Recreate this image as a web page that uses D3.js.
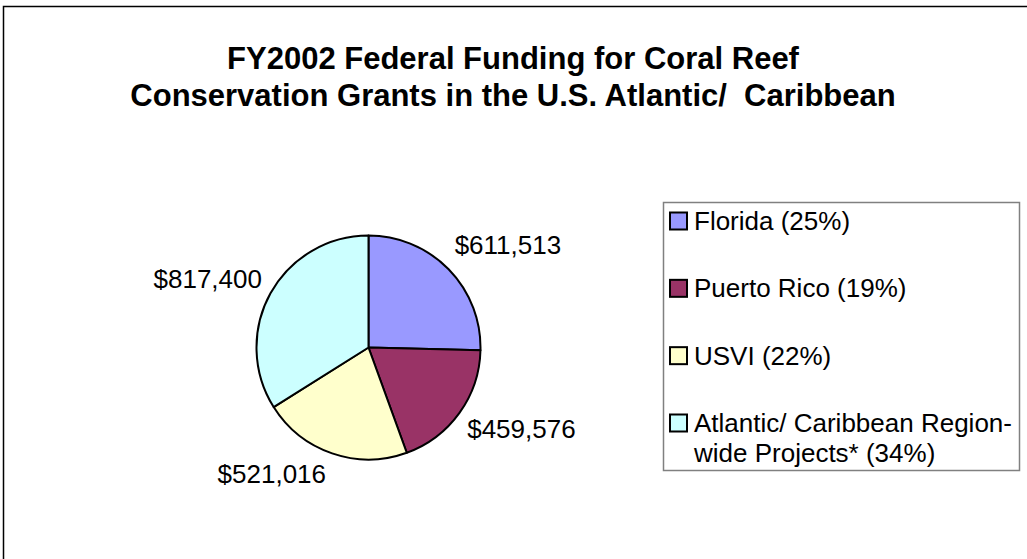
<!DOCTYPE html>
<html>
<head>
<meta charset="utf-8">
<script src="https://cdn.jsdelivr.net/npm/d3@7"></script>
<style>
  html, body { margin: 0; padding: 0; background: #fff; }
  svg { display: block; font-family: "Liberation Sans", Arial, sans-serif; }
  .title { white-space: pre; }
</style>
</head>
<body>
<svg id="chart" width="1027" height="559"></svg>
<script>
// ---- data ----
const categories = ["Florida", "Puerto Rico", "USVI", "Atlantic/ Caribbean Region-wide Projects*"];
const values = [611513, 459576, 521016, 817400];
const legendLabels = [["Florida (25%)"], ["Puerto Rico (19%)"], ["USVI (22%)"], ["Atlantic/ Caribbean Region-", "wide Projects* (34%)"]];
const colors = ["#9999FF", "#993366", "#FFFFCC", "#CCFFFF"];
const titleLines = ["FY2002 Federal Funding for Coral Reef", "Conservation Grants in the U.S. Atlantic/  Caribbean"];

// ---- layout ----
const W = 1027, H = 559;
const cx = 368.5, cy = 347.5, r = 112;
const labelR = 140;
const labelNudge = [[-14, -5], [-15, 0], [3, -6], [16, -1]];

const svg = d3.select("#chart");

svg.append("rect").attr("x", 3.5).attr("y", 6.5).attr("width", 1100).attr("height", 600)
  .attr("fill", "#fff").attr("stroke", "#000").attr("stroke-width", 1.5);

svg.selectAll("text.title").data(titleLines).join("text")
  .attr("class", "title")
  .attr("x", 513).attr("y", (d, i) => 69 + i * 37)
  .attr("text-anchor", "middle")
  .attr("font-size", 31).attr("font-weight", "bold").attr("fill", "#000")
  .text(d => d);

const fmt = d3.format("$,");
const pie = d3.pie().sort(null).value(d => d)(values);
const arc = d3.arc().innerRadius(0).outerRadius(r);

const g = svg.append("g").attr("transform", `translate(${cx},${cy})`);
g.selectAll("path").data(pie).join("path")
  .attr("d", arc)
  .attr("fill", (d, i) => colors[i])
  .attr("stroke", "#000").attr("stroke-width", 2).attr("stroke-linejoin", "round");

g.selectAll("text.lbl").data(pie).join("text")
  .attr("class", "lbl")
  .each(function (d, i) {
    const a = (d.startAngle + d.endAngle) / 2;
    const x = Math.sin(a) * labelR + labelNudge[i][0];
    const y = -Math.cos(a) * labelR + labelNudge[i][1];
    d3.select(this).attr("x", x).attr("y", y)
      .attr("text-anchor", Math.sin(a) >= 0 ? "start" : "end")
      .attr("dy", "0.35em");
  })
  .attr("font-size", 26).attr("fill", "#000")
  .text(d => fmt(d.data));

// ---- legend ----
const lg = svg.append("g");
lg.append("rect").attr("x", 663.5).attr("y", 202.5).attr("width", 356).attr("height", 268)
  .attr("fill", "#fff").attr("stroke", "#808080").attr("stroke-width", 1.5);
const itemY = d3.scalePoint().domain(d3.range(categories.length)).range([221, 423]);
const items = lg.selectAll("g.item").data(categories).join("g")
  .attr("class", "item")
  .attr("transform", (d, i) => `translate(670,${itemY(i)})`);
items.append("rect").attr("x", 0).attr("y", -8.5).attr("width", 17).attr("height", 17)
  .attr("fill", (d, i) => colors[i]).attr("stroke", "#000").attr("stroke-width", 2);
items.each(function (d, i) {
  d3.select(this).selectAll("text").data(legendLabels[i]).join("text")
    .attr("x", 24).attr("y", (t, j) => j * 30).attr("dy", "0.35em")
    .attr("font-size", 26).attr("fill", "#000")
    .text(t => t);
});
</script>
</body>
</html>
